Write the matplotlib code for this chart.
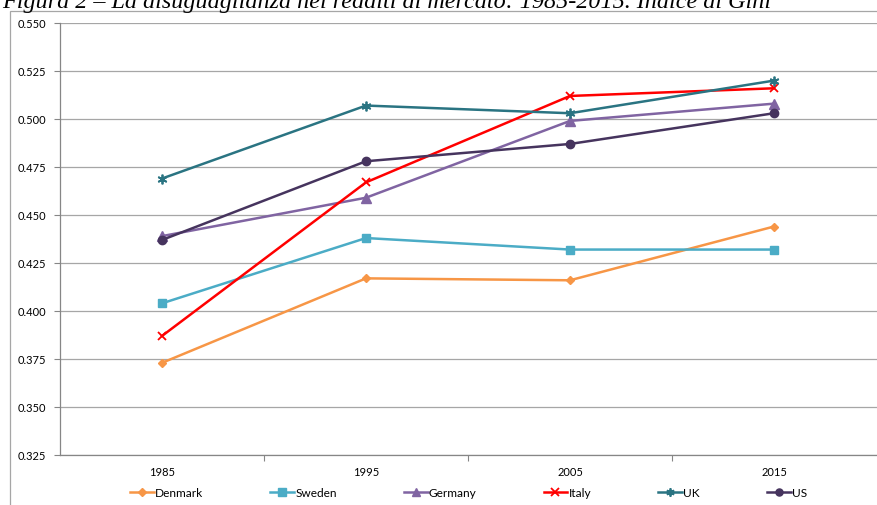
import matplotlib.pyplot as plt
from matplotlib.patches import Rectangle
from matplotlib.ticker import FixedLocator

# Gini index of market income, 1985-2015
years = ["1985", "1995", "2005", "2015"]
denmark = [0.373, 0.417, 0.416, 0.444]
sweden = [0.404, 0.438, 0.432, 0.432]
germany = [0.439, 0.459, 0.499, 0.508]
italy = [0.387, 0.467, 0.512, 0.516]
uk = [0.469, 0.507, 0.503, 0.520]
us = [0.437, 0.478, 0.487, 0.503]

series = [
    ("Denmark", denmark, "#F79646", "D", 4.5),
    ("Sweden", sweden, "#4BACC6", "s", 6),
    ("Germany", germany, "#8064A2", "^", 6.5),
    ("Italy", italy, "#FF0000", "x", 6),
    ("UK", uk, "#2A7482", (6, 2, 0), 7),
    ("US", us, "#46345E", "o", 6),
]

plt.rcParams['font.family'] = ['Lato', 'DejaVu Sans']
W, H = 877, 506
fig = plt.figure(figsize=(W / 100, H / 100), dpi=100)

# chart frame and caption above it (runs off the top edge)
fig.patches.append(Rectangle((10 / W, -0.1), 1.2, (H - 12) / H + 0.1,
                             transform=fig.transFigure, fill=False,
                             edgecolor="#A6A6A6", lw=0.9))
fig.text(2 / W, (H - 8) / H,
         "Figura 2 \u2013 La disuguaglianza nei redditi di mercato: 1985-2015. Indice di Gini",
         family="Liberation Serif", style="italic", fontsize=17.4, va="baseline")

ax = fig.add_axes([60 / W, (H - 456) / H, (W - 60) / W, 432 / H])
x = list(range(len(years)))
for name, vals, color, marker, ms in series:
    mew = 1.3 if marker in ("x",) or isinstance(marker, tuple) else 1
    ax.plot(x, vals, color=color, lw=1.8, marker=marker, markersize=ms,
            markeredgewidth=mew, markeredgecolor=color, label=name)

ax.set_xlim(-0.5, 3.505)
ax.set_ylim(0.325, 0.550)
ax.set_yticks([0.325 + 0.025 * i for i in range(10)])
ax.yaxis.set_major_formatter(plt.FormatStrFormatter("%.3f"))
ax.set_xticks(x)
ax.set_xticklabels(years)
ax.xaxis.set_minor_locator(FixedLocator([0.5, 1.5, 2.5]))
ax.tick_params(axis="x", which="major", length=0, pad=8, labelsize=8)
ax.tick_params(axis="x", which="minor", length=4, color="#868686", width=0.8)
ax.tick_params(axis="y", length=4, color="#868686", width=0.8, labelsize=8, pad=6)
ax.grid(axis="y", color="#A6A6A6", lw=0.9)
ax.set_axisbelow(True)
for s in ("top", "right"):
    ax.spines[s].set_visible(False)
for s in ("left", "bottom"):
    ax.spines[s].set_color("#868686")
    ax.spines[s].set_linewidth(0.9)

ax.legend(loc="center", bbox_to_anchor=(0.5, -0.087), ncol=6, frameon=False,
          fontsize=8.6, handlelength=2.0, handletextpad=0.1, columnspacing=5.6,
          markerscale=0.85)

fig.savefig("out.png", dpi=100)
